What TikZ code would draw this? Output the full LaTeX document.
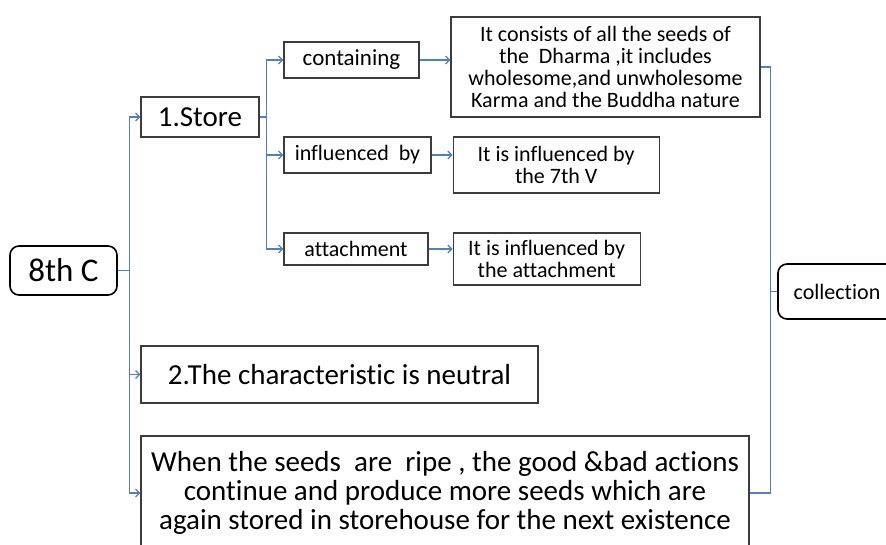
\documentclass[tikz,border=0pt]{standalone}
\usepackage{fontspec}
\setmainfont{Carlito}[Ligatures=NoCommon]
\usepackage{tikz}
\usetikzlibrary{positioning, arrows.meta}

\definecolor{linkblue}{RGB}{79,129,189}
\definecolor{boxgray}{RGB}{60,60,60}

\begin{document}
\begin{tikzpicture}[x=1pt, y=-1pt,
  big node/.style={draw=boxgray, line width=1.2pt, inner sep=0pt, align=center,
    font=\fontsize{29}{29}\selectfont},
  small node/.style={draw=boxgray, line width=1.2pt, inner sep=0pt, align=center,
    font=\fontsize{22}{22}\selectfont},
  round node/.style={draw=black, line width=1.6pt, rounded corners=9pt, inner sep=0pt},
  link/.style={draw=linkblue, line width=1.2pt, -{Straight Barb[length=4pt,width=8pt]}},
  plain link/.style={draw=linkblue, line width=1.2pt}]

\fill[white] (0,0) rectangle (886,545);
\useasboundingbox (0,0) rectangle (886,545);

% left column
\node[big node, round node, font=\fontsize{33}{33}\selectfont, minimum width=107pt, minimum height=49pt] (C8) at (63.5,270.5) {8th C};
\node[big node, minimum width=118pt, minimum height=40pt] (Store) at (200,117) {1.Store};
\node[big node, minimum width=397pt, minimum height=57pt] (Neutral) at (339.5,374.5) {2.The characteristic is neutral};
\node[big node, minimum width=608pt, minimum height=114pt] (Ripe) at (445,493)
  {When the seeds~ are~ ripe , the good \&bad actions\\
   continue and produce more seeds which are\\
   again stored in storehouse for the next existence};

% store branches
\node[small node, font=\fontsize{23}{23}\selectfont, minimum width=135pt, minimum height=36pt] (Containing) at (351.5,60) {containing};
\node[small node, minimum width=147pt, minimum height=36pt] (Influenced) at (357.5,155) {influenced~ by};
\node[small node, minimum width=144pt, minimum height=32pt] (Attachment) at (356,249) {attachment};

\node[small node, minimum width=309pt, minimum height=100pt] (Seeds) at (605.5,67)
  {It consists of all the seeds of\\
   the~ Dharma ,it includes\\
   wholesome,and unwholesome\\
   Karma and the Buddha nature};
\node[small node, minimum width=206pt, minimum height=56pt,
  right=21pt of Influenced.north east, anchor=north west] (Seventh) {It is influenced by\\the 7th V};
\node[small node, minimum width=187pt, minimum height=52pt,
  right=24pt of Attachment.north east, anchor=north west] (AttachText) {It is influenced by\\the attachment};

\node[small node, round node, minimum width=118pt, minimum height=55pt] (Collection) at (837,291.5) {collection};

% connectors
\draw[link] (C8.east) -- ++(12,0) |- (Store.west);
\draw[link] (C8.east) -- ++(12,0) |- (Neutral.west);
\draw[link] (C8.east) -- ++(12,0) |- (Ripe.west);

\draw[link] (Store.east) -- ++(7,0) |- (Containing.west);
\draw[link] (Store.east) -- ++(7,0) |- (Influenced.west);
\draw[link] (Store.east) -- ++(7,0) |- (Attachment.west);

\draw[link] (Containing.east) -- (Containing.east -| Seeds.west);
\draw[link] (Influenced.east) -- (Influenced.east -| Seventh.west);
\draw[link] (Attachment.east) -- (Attachment.east -| AttachText.west);

\draw[plain link] (Seeds.east) -- ++(10,0) coordinate (Bar) |- (Ripe.east);
\draw[plain link] (Collection.west) -- (Collection.west -| Bar);
\end{tikzpicture}
\end{document}
